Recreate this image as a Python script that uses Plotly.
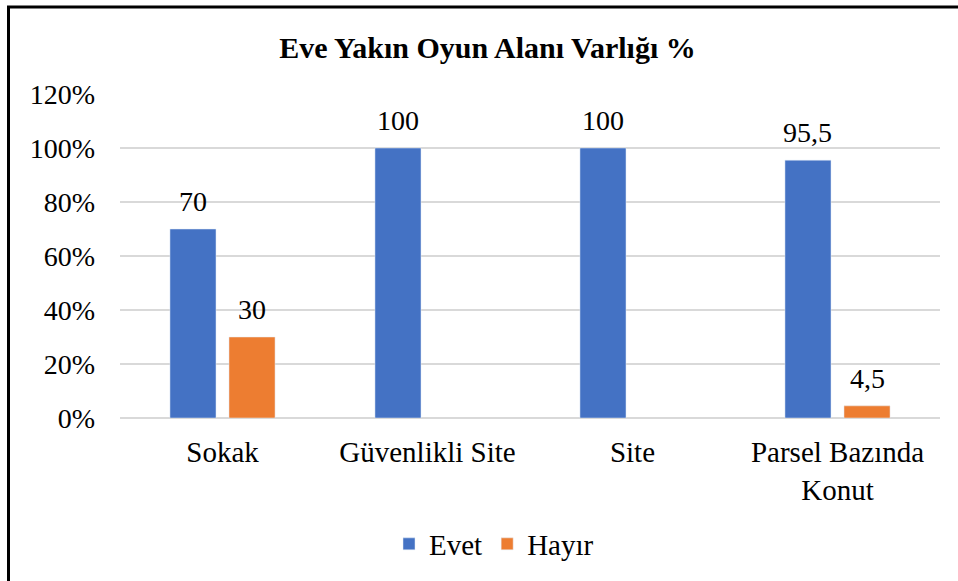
import plotly.graph_objects as go

categories = ["Sokak", "Güvenlikli Site", "Site", "Parsel Bazında<br>Konut"]
evet = [70, 100, 100, 95.5]
hayir = [30, None, None, 4.5]
evet_labels = ["70", "100", "100", "95,5"]
hayir_labels = ["30", "", "", "4,5"]
tick_vals = [0, 20, 40, 60, 80, 100, 120]
tick_text = ["0%", "20%", "40%", "60%", "80%", "100%", "120%"]

W, H = 958, 581
L, R, T, B = 120, 18, 94, 163
pw, ph = W - L - R, H - T - B

FONT = "Liberation Serif"
BARGAP, GROUPGAP = 0.424, 0.22

fig = go.Figure()
fig.add_trace(go.Bar(name="Evet", x=categories, y=evet, marker_color="#4472C4"))
fig.add_trace(go.Bar(name="Hayır", x=categories, y=hayir, marker_color="#ED7D31"))

# data labels placed above each bar (offset of grouped bars in pixels)
slot_px = pw / len(categories) * (1 - BARGAP) / 2
annotations = []
for vals, labs, sgn in ((evet, evet_labels, -1), (hayir, hayir_labels, 1)):
    for c, v, t in zip(categories, vals, labs):
        if v is None or not t:
            continue
        annotations.append(dict(x=c, y=v, xref="x", yref="y", text=t, showarrow=False,
                                xanchor="center", yanchor="bottom", yshift=10,
                                xshift=sgn * slot_px / 2,
                                font=dict(size=28, family=FONT, color="#000000")))

def px_x(x):
    return (x - L) / pw

def px_y(y):
    return (H - B - y) / ph

shapes = [
    dict(type="line", xref="paper", yref="paper", x0=px_x(8.5), x1=px_x(8.5),
         y0=px_y(600), y1=px_y(7), line=dict(color="#000000", width=3)),
    dict(type="line", xref="paper", yref="paper", x0=px_x(7), x1=px_x(970),
         y0=px_y(7), y1=px_y(7), line=dict(color="#000000", width=3)),
]

fig.update_layout(
    width=W, height=H,
    margin=dict(l=L, r=R, t=T, b=B),
    paper_bgcolor="white", plot_bgcolor="white",
    font=dict(family=FONT, size=28, color="#000000"),
    title=dict(text="<b>Eve Yakın Oyun Alanı Varlığı %</b>", x=487.5 / W, xanchor="center",
               y=1 - 47 / H, yanchor="middle", font=dict(size=30, family=FONT)),
    barmode="group", bargap=BARGAP, bargroupgap=GROUPGAP,
    showlegend=True,
    legend=dict(orientation="h", x=px_x(389), xanchor="left", y=px_y(544), yanchor="middle",
                font=dict(size=29, family=FONT), itemwidth=30, traceorder="normal"),
    shapes=shapes,
    annotations=annotations,
)
fig.update_yaxes(range=[0, 120], tickvals=tick_vals, ticktext=tick_text,
                 showgrid=True, gridcolor="#D9D9D9", gridwidth=1.5,
                 zeroline=True, zerolinecolor="#D9D9D9", zerolinewidth=1.5,
                 showline=False, ticks="", ticklabelstandoff=24,
                 tickfont=dict(size=28, family=FONT))
fig.update_xaxes(showline=False, ticks="", tickfont=dict(size=29, family=FONT),
                 ticklabelstandoff=14)

fig.write_html("out.html", config={"displayModeBar": False},
               post_script="document.body.style.margin='0';document.body.style.overflow='hidden';")
